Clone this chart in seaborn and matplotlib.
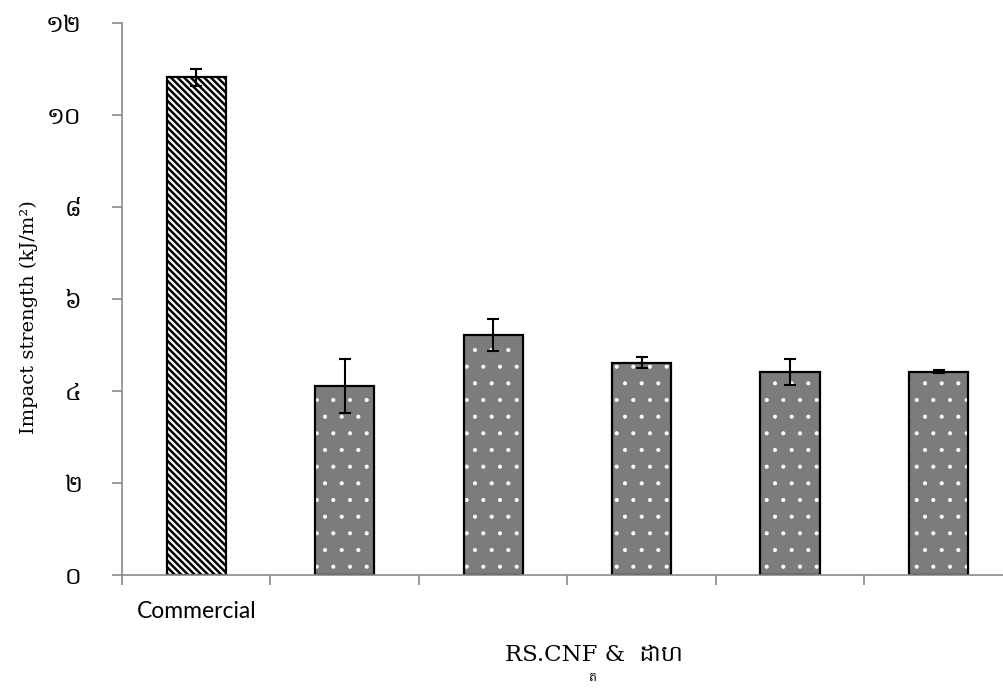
import matplotlib
matplotlib.use("Agg")
import matplotlib.pyplot as plt
from matplotlib.patches import Rectangle
from matplotlib.ticker import FixedLocator
import seaborn as sns

# Impact strength of the commercial sample and the RS.CNF series
samples = ["Commercial", "RS1", "RS2", "RS3", "RS4", "RS5"]
tick_labels = ["Commercial", "", "", "", "", ""]
impact = [10.82, 4.11, 5.22, 4.61, 4.41, 4.42]
impact_err = [0.19, 0.58, 0.35, 0.12, 0.29, 0.03]

y_ticks = [0, 2, 4, 6, 8, 10, 12]
y_tick_labels = ["០", "២", "៤", "៦", "៨", "១០", "១២"]

sns.set_theme(style="white")
plt.rcParams["font.family"] = ["DejaVu Serif", "Hanuman"]

axis_grey = "#8a8a8a"

fig = plt.figure(figsize=(10.04, 6.89), dpi=100)
ax = fig.add_axes([0.1215, 0.1655, 0.8785, 0.8011])

sns.barplot(x=samples, y=impact, order=samples, width=0.4,
            color="#7c7c7c", errorbar=None, ax=ax)


def overlay(p, hatch, color, hlw, dz):
    """Hatch layer sitting exactly on top of a seaborn bar."""
    with plt.rc_context({"hatch.linewidth": hlw}):
        r = Rectangle(p.get_xy(), p.get_width(), p.get_height(), fill=False,
                      hatch=hatch, edgecolor=color, linewidth=0,
                      zorder=p.get_zorder() + dz)
        if hasattr(r, "set_hatch_linewidth"):
            r.set_hatch_linewidth(hlw)
    ax.add_patch(r)
    return r


bars = list(ax.patches)
for i, p in enumerate(bars):
    p.set_linewidth(0)
    if i == 0:
        # dense black diagonal stripes on white
        p.set_facecolor("white")
        overlay(p, "\\\\\\\\\\", "black", 1.8, 0.1)
    else:
        # grey ground with sparse white dots
        p.set_facecolor("#7c7c7c")
        overlay(p, ".", "white", 0.5, 0.1)
    ax.add_patch(Rectangle(p.get_xy(), p.get_width(), p.get_height(),
                           fill=False, edgecolor="black", linewidth=1.6,
                           zorder=p.get_zorder() + 0.2))

ax.errorbar(range(len(samples)), impact, yerr=impact_err, fmt="none",
            ecolor="black", elinewidth=1.5, capsize=4, capthick=1.5, zorder=5)

ax.set_ylim(0, 12)
ax.set_xlim(-0.5, 5.44)

# y axis with Khmer numerals
ax.set_yticks(y_ticks)
ax.set_yticklabels(y_tick_labels, family=["Hanuman", "DejaVu Sans"], fontsize=17)
ax.tick_params(axis="y", direction="out", length=7, width=1.2, color=axis_grey,
               pad=22, left=True, labelcolor="black")

# category labels under bars, boundary ticks between them
ax.set_xticks(range(len(samples)))
ax.set_xticklabels(tick_labels, family=["Lato", "DejaVu Sans"], fontsize=16.5)
ax.tick_params(axis="x", which="major", length=0, pad=19, labelcolor="black")
ax.xaxis.set_minor_locator(FixedLocator([i - 0.5 for i in range(len(samples))]))
ax.tick_params(axis="x", which="minor", direction="out", length=7, width=1.2,
               color=axis_grey, bottom=True)

for side in ("top", "right"):
    ax.spines[side].set_visible(False)
for side in ("left", "bottom"):
    ax.spines[side].set_color(axis_grey)
    ax.spines[side].set_linewidth(1.2)

ax.set_xlabel("")
ax.set_ylabel("Impact strength (kJ/m²)", fontsize=14,
              family=["DejaVu Serif", "Hanuman"], color="black")
ax.yaxis.set_label_coords(-0.095, 0.467)

fig.text(0.592, 0.049, "RS.CNF &  ដោហ", ha="center", va="center",
         fontsize=16.5, family=["DejaVu Serif", "Hanuman"], color="black")
fig.text(0.590, 0.016, "ត", ha="center", va="center",
         fontsize=9, family=["Hanuman", "DejaVu Sans"], color="black")

fig.savefig("out.png", dpi=100)
